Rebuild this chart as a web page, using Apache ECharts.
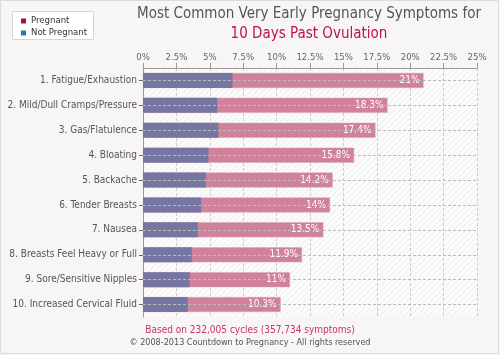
<!DOCTYPE html>
<html><head><meta charset="utf-8">
<script src="https://cdn.jsdelivr.net/npm/echarts@6/dist/echarts.min.js"></script>
<style>html,body{margin:0;padding:0;background:#f7f6f4}#c{width:500px;height:355px}</style>
</head><body><div id="c"></div>
<script>
var categories = ["1. Fatigue/Exhaustion","2. Mild/Dull Cramps/Pressure","3. Gas/Flatulence","4. Bloating","5. Backache","6. Tender Breasts","7. Nausea","8. Breasts Feel Heavy or Full","9. Sore/Sensitive Nipples","10. Increased Cervical Fluid"];
var pregnant = [21, 18.3, 17.4, 15.8, 14.2, 14, 13.5, 11.9, 11, 10.3];
var notPregnant = [6.7, 5.55, 5.65, 4.9, 4.7, 4.35, 4.1, 3.65, 3.5, 3.35];
var xTicks = [0, 2.5, 5, 7.5, 10, 12.5, 15, 17.5, 20, 22.5, 25];

var pc = document.createElement('canvas'); pc.width = 6; pc.height = 6;
var g = pc.getContext('2d'); g.fillStyle = '#fbfbfb'; g.fillRect(0,0,6,6);
g.strokeStyle = '#ececec'; g.lineWidth = 1;
g.beginPath(); g.moveTo(0,6); g.lineTo(6,0); g.moveTo(-1,1); g.lineTo(1,-1); g.moveTo(5,7); g.lineTo(7,5); g.stroke();

var chart = echarts.init(document.getElementById('c'), null, {renderer:'canvas'});
var FONT = '"DejaVu Sans Condensed", "Liberation Sans", sans-serif';
chart.setOption({
  backgroundColor: '#f7f6f4',
  animation: false,
  textStyle: {fontFamily: FONT},
  graphic: [
    {type:'rect', shape:{x:0.5,y:0.5,width:498,height:353}, style:{fill:'none', stroke:'#dcdcdc', lineWidth:1}, silent:true},
    {type:'rect', shape:{x:12.5,y:11.5,width:81,height:28}, style:{fill:'#ffffff', stroke:'#d6d6d6', lineWidth:1}, silent:true},
    {type:'text', x:309, y:7, style:{text:'Most Common Very Early Pregnancy Symptoms for', align:'center', fill:'#555555', font:'15px ' + FONT}},
    {type:'text', x:309, y:27, style:{text:'10 Days Past Ovulation', align:'center', fill:'#c0104a', font:'15px ' + FONT}},
    {type:'text', x:250, y:325, style:{text:'Based on 232,005 cycles (357,734 symptoms)', align:'center', fill:'#c8336b', font:'10px ' + FONT}},
    {type:'text', x:250, y:338, style:{text:'\u00a9 2008-2013 Countdown to Pregnancy - All rights reserved', align:'center', fill:'#555555', font:'9px ' + FONT}}
  ],
  legend: {
    left: 16, top: 11, orient: 'vertical', itemGap: 2,
    itemWidth: 5, itemHeight: 5, icon: 'rect',
    textStyle: {fontSize: 9.5, color: '#333', fontFamily: FONT, padding: [0,0,0,0]},
    data: [{name:'Pregnant', itemStyle:{color:'#a8103a', borderWidth:0}}, {name:'Not Pregnant', itemStyle:{color:'#2a78b2', borderWidth:0}}]
  },
  grid: {left: 143, right: 23, top: 68, bottom: 38, show: true, outerBoundsMode: 'none', containLabel: false,
         backgroundColor: {image: pc, repeat: 'repeat'}, borderWidth: 0},
  xAxis: {
    type: 'value', position: 'top', min: 0, max: 25, interval: 2.5,
    axisLine: {show: true, lineStyle: {color: '#999'}},
    axisTick: {show: true, length: 5, lineStyle: {color: '#999'}},
    axisLabel: {color: '#666', fontSize: 9.5, margin: 5, formatter: function(v){return v + '%';}},
    splitLine: {show: true, lineStyle: {color: '#cccccc', type: [3,2]}}
  },
  yAxis: {
    type: 'category', data: categories, inverse: true,
    axisLine: {show: true, lineStyle: {color: '#999'}},
    axisTick: {show: true, length: 4, alignWithLabel: true, lineStyle: {color: '#666'}},
    axisLabel: {color: '#555', fontSize: 10, margin: 6},
    splitLine: {show: false}
  },
  series: [
    {name:'Pregnant', type:'bar', data: pregnant, barWidth: 15, barGap: '-100%',
     itemStyle: {color: '#d0829a', borderColor: '#dca0b2', borderWidth: 0.5},
     label: {show: true, position: 'insideRight', color: '#ffffff', fontSize: 10, fontFamily: FONT, offset:[1,0], formatter: function(p){return p.value + '%';}},
     z: 2},
    {name:'Not Pregnant', type:'bar', data: notPregnant, barWidth: 15,
     itemStyle: {color: '#7676a2'}, z: 3},
    {name:'grid', type:'line', data: categories.map(function(){return 25;}), symbol:'none', lineStyle:{opacity:0}, silent:true,
     markLine: {symbol:'none', silent:true, label:{show:false}, lineStyle:{color:'#bbbbbb', type:[3,2], width:1},
       data: categories.map(function(c){return {yAxis: c};})}, z: 4}
  ]
});
</script></body></html>
